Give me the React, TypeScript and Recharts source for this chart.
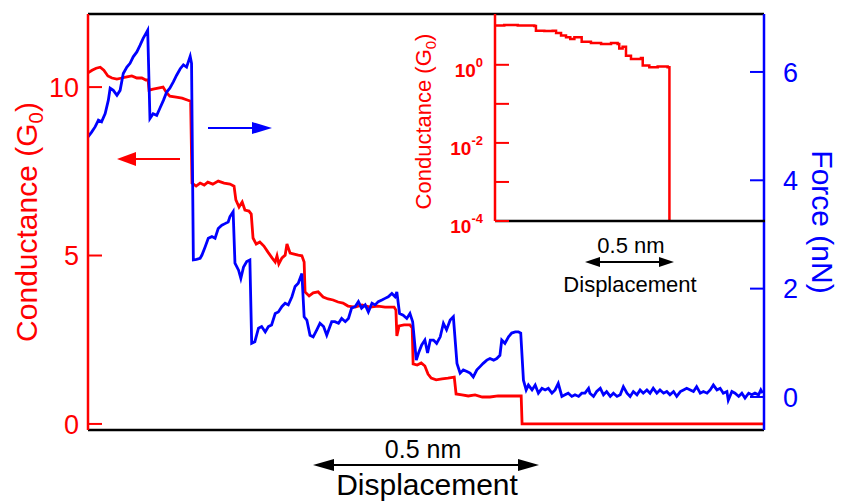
import { Label, Line, LineChart, ReferenceLine, XAxis, YAxis } from "recharts";

const COLORS = {
  red: "#ff0000",
  blue: "#0000ff",
  black: "#000000",
};

const FONT = '"Liberation Sans", Arial, Helvetica, sans-serif';

// [displacement (nm), conductance (G0)]
const conductanceTrace: [number, number][] = [
  [0, 10.42], [0.009, 10.5], [0.018, 10.56], [0.027, 10.59], [0.035, 10.5], [0.044, 10.33], [0.053, 10.27],
  [0.064, 10.24], [0.075, 10.27], [0.086, 10.3], [0.097, 10.33], [0.108, 10.27], [0.119, 10.27], [0.128, 10.21],
  [0.133, 10.21], [0.135, 9.91], [0.144, 9.94], [0.155, 9.97], [0.166, 10.0], [0.173, 9.85], [0.181, 9.73],
  [0.195, 9.7], [0.208, 9.67], [0.221, 9.61], [0.227, 9.58], [0.23, 7.15], [0.239, 7.06], [0.248, 7.15],
  [0.257, 7.09], [0.265, 7.18], [0.276, 7.12], [0.288, 7.21], [0.301, 7.15], [0.314, 7.12], [0.323, 7.06],
  [0.327, 6.65], [0.334, 6.44], [0.341, 6.59], [0.347, 6.35], [0.356, 6.32], [0.361, 6.23], [0.365, 5.52],
  [0.372, 5.34], [0.38, 5.4], [0.389, 5.28], [0.398, 5.1], [0.407, 4.93], [0.414, 4.81], [0.418, 4.99],
  [0.422, 4.75], [0.429, 4.93], [0.436, 5.01], [0.44, 5.34], [0.447, 5.07], [0.456, 5.04], [0.465, 5.01],
  [0.473, 4.99], [0.478, 4.81], [0.48, 3.92], [0.489, 3.8], [0.498, 3.89], [0.509, 3.92], [0.52, 3.77],
  [0.531, 3.71], [0.542, 3.68], [0.553, 3.62], [0.564, 3.59], [0.575, 3.5], [0.591, 3.47], [0.606, 3.53],
  [0.624, 3.47], [0.641, 3.5], [0.657, 3.47], [0.677, 3.47], [0.681, 3.38], [0.683, 2.61], [0.688, 2.91],
  [0.699, 2.94], [0.712, 2.94], [0.717, 2.85], [0.719, 1.78], [0.728, 1.75], [0.737, 1.81], [0.745, 1.72],
  [0.752, 1.48], [0.759, 1.36], [0.77, 1.31], [0.783, 1.34], [0.796, 1.36], [0.81, 1.39], [0.814, 0.89],
  [0.827, 0.86], [0.841, 0.83], [0.856, 0.86], [0.872, 0.8], [0.889, 0.8], [0.907, 0.83], [0.925, 0.83],
  [0.942, 0.83], [0.958, 0.83], [0.96, 0], [1.0, 0], [1.495, 0],
];

// [displacement (nm), force (nN)]
const forceTrace: [number, number][] = [
  [0, 4.8], [0.008, 4.89], [0.016, 4.99], [0.023, 5.11], [0.03, 5.08], [0.038, 5.23], [0.045, 5.48],
  [0.049, 5.7], [0.056, 5.66], [0.064, 5.57], [0.071, 5.66], [0.078, 5.97], [0.086, 6.09], [0.093, 6.16],
  [0.1, 6.28], [0.108, 6.37], [0.115, 6.49], [0.122, 6.62], [0.13, 6.74], [0.132, 6.77], [0.137, 5.14],
  [0.144, 5.23], [0.152, 5.2], [0.159, 5.33], [0.167, 5.48], [0.174, 5.63], [0.181, 5.7], [0.189, 5.82],
  [0.196, 5.94], [0.204, 6.06], [0.211, 6.13], [0.218, 6.09], [0.226, 6.29], [0.229, 6.16], [0.233, 2.53],
  [0.24, 2.54], [0.248, 2.56], [0.252, 2.62], [0.259, 2.77], [0.266, 2.93], [0.274, 2.96], [0.281, 2.93],
  [0.288, 3.11], [0.296, 3.17], [0.303, 3.2], [0.31, 3.23], [0.314, 3.33], [0.321, 3.42], [0.325, 2.47],
  [0.333, 2.34], [0.338, 2.19], [0.344, 2.4], [0.351, 2.5], [0.358, 2.53], [0.362, 0.99], [0.369, 1.02],
  [0.377, 1.27], [0.384, 1.3], [0.392, 1.2], [0.399, 1.3], [0.406, 1.33], [0.414, 1.54], [0.421, 1.57],
  [0.429, 1.67], [0.436, 1.73], [0.443, 1.7], [0.451, 1.85], [0.458, 2.04], [0.465, 2.1], [0.473, 2.28],
  [0.478, 1.48], [0.484, 1.42], [0.491, 1.14], [0.498, 1.11], [0.506, 1.24], [0.513, 1.36], [0.521, 1.3],
  [0.528, 1.14], [0.535, 1.3], [0.539, 1.39], [0.546, 1.39], [0.554, 1.36], [0.561, 1.45], [0.569, 1.39],
  [0.576, 1.45], [0.583, 1.64], [0.591, 1.67], [0.598, 1.76], [0.605, 1.64], [0.613, 1.7], [0.62, 1.57],
  [0.628, 1.73], [0.635, 1.7], [0.642, 1.76], [0.65, 1.79], [0.657, 1.82], [0.664, 1.85], [0.672, 1.91],
  [0.679, 1.85], [0.683, 1.94], [0.689, 1.54], [0.697, 1.51], [0.705, 1.45], [0.712, 1.54], [0.718, 1.39],
  [0.726, 0.68], [0.731, 0.81], [0.738, 0.96], [0.745, 1.05], [0.751, 0.81], [0.757, 1.05], [0.764, 1.05],
  [0.771, 0.99], [0.779, 1.11], [0.786, 1.36], [0.793, 1.24], [0.801, 1.42], [0.808, 1.48], [0.816, 0.62],
  [0.823, 0.44], [0.83, 0.5], [0.838, 0.47], [0.845, 0.44], [0.852, 0.37], [0.86, 0.5], [0.867, 0.56],
  [0.874, 0.62], [0.882, 0.68], [0.889, 0.71], [0.897, 0.68], [0.904, 0.71], [0.911, 0.77], [0.915, 1.05],
  [0.922, 0.99], [0.93, 1.11], [0.937, 1.18], [0.945, 1.2], [0.952, 1.2], [0.957, 1.18], [0.963, 0.31],
  [0.969, 0.13], [0.974, 0.22], [0.982, 0.13], [0.989, 0.22], [0.996, 0.07], [1.004, 0.16], [1.011, 0.13],
  [1.018, 0.16], [1.026, 0.07], [1.033, 0.13], [1.04, 0.25], [1.048, 0.01], [1.055, 0.04], [1.062, 0.07],
  [1.07, 0.01], [1.077, 0.04], [1.085, 0.01], [1.092, 0.07], [1.099, 0.07], [1.107, 0.16], [1.11, 0.07],
  [1.118, 0.01], [1.125, 0.1], [1.133, 0.16], [1.14, 0.04], [1.147, 0.1], [1.155, 0.01], [1.162, 0.07],
  [1.17, 0.01], [1.177, 0.04], [1.184, 0.19], [1.192, 0.07], [1.199, 0.01], [1.206, 0.1], [1.214, 0.04],
  [1.221, 0.13], [1.228, 0.07], [1.236, 0.13], [1.243, 0.07], [1.25, 0.16], [1.258, 0.07], [1.265, 0.13],
  [1.273, 0.07], [1.28, 0.1], [1.287, 0.04], [1.295, 0.1], [1.302, 0.01], [1.31, 0.1], [1.317, 0.13],
  [1.324, 0.16], [1.332, 0.13], [1.339, 0.1], [1.346, 0.19], [1.354, 0.07], [1.361, 0.1], [1.369, 0.07],
  [1.376, 0.13], [1.383, 0.22], [1.391, 0.13], [1.398, 0.16], [1.405, 0.07], [1.413, 0.1], [1.416, -0.06],
  [1.424, 0.1], [1.431, 0.07], [1.439, 0.01], [1.446, 0.07], [1.453, -0.02], [1.461, 0.07], [1.468, 0.04],
  [1.475, 0.07], [1.483, 0.04], [1.488, 0.13], [1.492, 0.07],
];

// inset, log scale: [displacement (nm), conductance (G0)]
const insetTrace: [number, number][] = [
  [0, 10.1], [0.052, 10.5], [0.128, 10.1], [0.221, 9.8], [0.23, 7.5], [0.277, 7.3], [0.324, 7.5],
  [0.343, 6.5], [0.371, 5.6], [0.399, 5.1], [0.423, 4.6], [0.446, 5.1], [0.474, 5.1], [0.487, 3.9],
  [0.539, 3.6], [0.596, 3.4], [0.652, 3.6], [0.689, 3.4], [0.698, 2.6], [0.717, 2.9], [0.736, 1.7],
  [0.764, 1.4], [0.792, 1.4], [0.82, 1.5], [0.83, 0.96], [0.867, 0.87], [0.914, 0.9], [0.97, 0.87],
  [0.98, 0.0001],
];

const conductanceTicks = [0, 5, 10];
const forceTicks = [0, 2, 4, 6];
const insetTicks = [1, 0.1, 0.01, 0.001, 0.0001];
const insetLabelled = [1, 0.01, 0.0001];

const toPoints = (trace: [number, number][]) => trace.map(([x, y]) => ({ x, y }));

// label only; the inward tick line comes from tickLine with a negative tickSize
function InsetTick(props: any) {
  const { x, y, payload } = props;
  if (!insetLabelled.includes(payload.value)) return <g />;
  const exp = Math.round(Math.log10(payload.value));
  return (
    <text x={x} y={y + 12} textAnchor="end" fill={COLORS.red} fontSize={19} fontWeight="bold" fontFamily={FONT}>
      10
      <tspan dy={-10} fontSize={13}>
        {exp === 0 ? "0" : `-${Math.abs(exp)}`}
      </tspan>
    </text>
  );
}

function ConductanceTitle({ viewBox, size, offset, shift }: any) {
  const cx = viewBox.x + offset;
  const cy = viewBox.y + viewBox.height / 2 + shift;
  return (
    <text
      x={cx}
      y={cy}
      dy="0.36em"
      transform={`rotate(-90 ${cx} ${cy})`}
      textAnchor="middle"
      fill={COLORS.red}
      fontSize={size}
      fontFamily={FONT}
    >
      Conductance (G
      <tspan dy={size * 0.22} fontSize={size * 0.68}>0</tspan>
      <tspan dy={-size * 0.22}>)</tspan>
    </text>
  );
}

function ForceTitle({ viewBox }: any) {
  const cx = viewBox.x + viewBox.width - 22;
  const cy = viewBox.y + viewBox.height / 2;
  return (
    <text
      x={cx}
      y={cy}
      dy="0.36em"
      transform={`rotate(90 ${cx} ${cy})`}
      textAnchor="middle"
      fill={COLORS.blue}
      fontSize={30}
      fontFamily={FONT}
    >
      Force (nN)
    </text>
  );
}

function Arrow({ x1, x2, y, color, head, half, both }: any) {
  const dir = x2 > x1 ? 1 : -1;
  return (
    <g>
      <line x1={both ? x1 + dir * head * 0.8 : x1} x2={x2 - dir * head * 0.8} y1={y} y2={y} stroke={color} strokeWidth={2} />
      <polygon points={`${x2},${y} ${x2 - dir * head},${y - half} ${x2 - dir * head},${y + half}`} fill={color} />
      {both ? (
        <polygon points={`${x1},${y} ${x1 + dir * head},${y - half} ${x1 + dir * head},${y + half}`} fill={color} />
      ) : null}
    </g>
  );
}

function Annotations() {
  return (
    <svg width={845} height={501} style={{ position: "absolute", left: 0, top: 0, pointerEvents: "none" }}>
      <Arrow x1={180} x2={117} y={159} color={COLORS.red} head={19} half={7} />
      <Arrow x1={208} x2={272} y={128} color={COLORS.blue} head={20} half={6} />
      <text x={423} y={458} textAnchor="middle" fontSize={25} fontFamily={FONT} fill={COLORS.black}>
        0.5 nm
      </text>
      <Arrow x1={313} x2={539} y={465} color={COLORS.black} head={21} half={6} both />
      <text x={427} y={495} textAnchor="middle" fontSize={30} fontFamily={FONT} fill={COLORS.black}>
        Displacement
      </text>
      <text x={631} y={253} textAnchor="middle" fontSize={22} fontFamily={FONT} fill={COLORS.black}>
        0.5 nm
      </text>
      <Arrow x1={585} x2={674} y={262} color={COLORS.black} head={15} half={5} both />
      <text x={630} y={292} textAnchor="middle" fontSize={22} fontFamily={FONT} fill={COLORS.black}>
        Displacement
      </text>
    </svg>
  );
}

export default function App() {
  const conductance = toPoints(conductanceTrace);
  const force = toPoints(forceTrace);
  const inset = toPoints(insetTrace);

  return (
    <div style={{ position: "absolute", left: 0, top: 0, width: 845, height: 501, background: "#fff" }}>
      <LineChart width={845} height={501} margin={{ top: 14, right: 0, bottom: 0, left: 0 }}>
        <XAxis
          type="number"
          dataKey="x"
          domain={[0, 1.495]}
          allowDataOverflow
          tick={false}
          tickLine={false}
          height={71}
          axisLine={{ stroke: COLORS.black, strokeWidth: 2.5 }}
        />
        <YAxis
          yAxisId="g"
          orientation="left"
          width={88}
          domain={[-0.18, 12.17]}
          allowDataOverflow
          ticks={conductanceTicks}
          tick={{ fill: COLORS.red, fontSize: 27, fontFamily: FONT }}
          tickLine={{ stroke: COLORS.red, strokeWidth: 2 }}
          tickSize={-14}
          tickMargin={23}
          axisLine={{ stroke: COLORS.red, strokeWidth: 2.5 }}
        >
          <Label content={(p: any) => <ConductanceTitle {...p} size={30} offset={26} shift={0} />} />
        </YAxis>
        <YAxis
          yAxisId="f"
          orientation="right"
          width={81}
          domain={[-0.61, 7.07]}
          allowDataOverflow
          ticks={forceTicks}
          tick={{ fill: COLORS.blue, fontSize: 27, fontFamily: FONT }}
          tickLine={{ stroke: COLORS.blue, strokeWidth: 2 }}
          tickSize={-14}
          tickMargin={33}
          axisLine={{ stroke: COLORS.blue, strokeWidth: 2.5 }}
        >
          <Label content={(p: any) => <ForceTitle {...p} />} />
        </YAxis>
        <ReferenceLine yAxisId="g" y={12.17} stroke={COLORS.black} strokeWidth={2.5} />
        <Line
          yAxisId="g"
          data={conductance}
          dataKey="y"
          type="linear"
          stroke={COLORS.red}
          strokeWidth={2.8}
          dot={false}
          isAnimationActive={false}
        />
        <Line
          yAxisId="f"
          data={force}
          dataKey="y"
          type="linear"
          stroke={COLORS.blue}
          strokeWidth={2.8}
          dot={false}
          isAnimationActive={false}
        />
      </LineChart>

      <div style={{ position: "absolute", left: 400, top: 0 }}>
        <LineChart width={380} height={240} margin={{ top: 14, right: 15, bottom: 0, left: 0 }}>
          <XAxis
            type="number"
            dataKey="x"
            domain={[0, 1.517]}
            allowDataOverflow
            tick={false}
            tickLine={false}
            height={19}
            axisLine={{ stroke: COLORS.black, strokeWidth: 2.5 }}
          />
          <YAxis
            scale="log"
            width={95}
            domain={[0.0001, 20]}
            allowDataOverflow
            ticks={insetTicks}
            tick={(p: any) => <InsetTick {...p} />}
            tickLine={{ stroke: COLORS.red, strokeWidth: 2 }}
            tickSize={-14}
            tickMargin={26}
            axisLine={{ stroke: COLORS.red, strokeWidth: 2.5 }}
          >
            <Label content={(p: any) => <ConductanceTitle {...p} size={22} offset={23} shift={4} />} />
          </YAxis>
          <Line
            data={inset}
            dataKey="y"
            type="stepAfter"
            stroke={COLORS.red}
            strokeWidth={2.5}
            dot={false}
            isAnimationActive={false}
          />
        </LineChart>
      </div>

      <Annotations />
    </div>
  );
}
